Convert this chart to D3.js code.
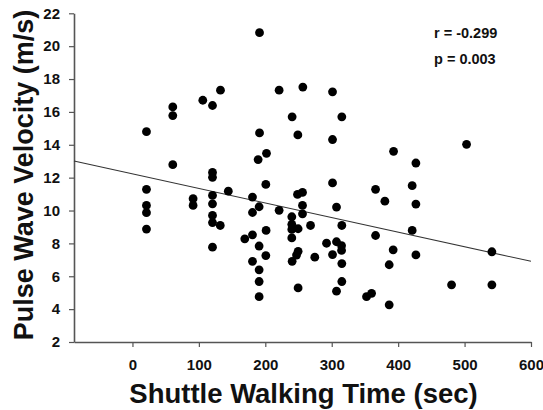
<!DOCTYPE html>
<html><head><meta charset="utf-8">
<script src="https://cdn.jsdelivr.net/npm/d3@7/dist/d3.min.js"></script>
<style>
html,body{margin:0;padding:0;background:#fff;}
text{font-family:Arial,"Liberation Sans",sans-serif;font-weight:bold;fill:#111;}
</style></head>
<body><svg id="c" width="543" height="410"></svg>
<script>
const walkTime = [132.5,105.9,120.5,60.7,60.7,21.1,60.7,120.5,120.5,21.1,91.3,91.3,21.1,21.1,21.1,120.5,120.5,120.5,120.5,132.2,120.5,144.3,
191.3,220.8,256.5,301.2,240.4,315.2,191.3,249.0,301.2,201.8,189.2,393.1,503.0,426.7,421.1,426.7,421.1,426.7,541.1,480.4,541.1,
200.8,301.2,180.7,248.5,256.0,366.0,380.0,190.7,180.7,220.8,256.0,256.0,307.2,239.9,239.9,239.9,249.4,268.1,315.2,201.2,366.0,
180.7,169.1,239.9,190.7,292.2,307.2,314.8,314.8,249.4,247.0,200.8,274.5,301.2,392.5,180.7,240.4,190.7,315.2,386.5,190.7,315.2,
249.4,307.2,190.7,352.4,360.0,386.5];
const pwv = [17.32,16.71,16.39,16.30,15.78,14.80,12.79,12.32,12.02,11.29,10.72,10.31,10.31,9.87,8.87,10.92,10.41,9.70,9.27,9.09,7.77,11.18,
20.82,17.32,17.51,17.22,15.70,15.70,14.72,14.60,14.32,13.48,13.10,13.60,14.03,12.89,11.51,10.39,8.79,7.30,7.49,5.48,5.48,
11.59,11.68,10.82,10.98,11.10,11.29,10.57,10.23,9.88,10.01,10.31,9.80,10.21,9.62,9.16,8.85,8.89,9.09,9.09,8.79,8.48,
8.52,8.28,8.33,7.84,8.01,8.10,7.87,7.57,7.52,7.29,7.26,7.16,7.32,7.61,6.91,6.91,6.39,6.77,6.70,5.68,5.68,
5.29,5.09,4.76,4.76,4.96,4.26];
const xTicks = [0,100,200,300,400,500,600];
const yTicks = [2,4,6,8,10,12,14,16,18,20,22];
const regIntercept = 12.23, regSlope = -0.00887;
const statLines = ["r = -0.299","p = 0.003"];
const xTitle = "Shuttle Walking Time (sec)";
const yTitle = "Pulse Wave Velocity (m/s)";

const svg = d3.select("#c");
const x = d3.scaleLinear().domain([-88,600]).range([74,531]);
const y = d3.scaleLinear().domain([2,22]).range([342,13.3]);

const axCol = "#555";
const gx = svg.append("g").attr("transform","translate(0,342)")
  .call(d3.axisBottom(x).tickValues(xTicks).tickSize(5).tickPadding(12).tickSizeOuter(0));
const gy = svg.append("g").attr("transform","translate(74,0)")
  .call(d3.axisLeft(y).tickValues(yTicks).tickSize(5).tickPadding(9).tickSizeOuter(0));
[gx,gy].forEach(g=>{
  g.select(".domain").attr("stroke",axCol).attr("stroke-width",1.6);
  g.selectAll(".tick line").attr("stroke",axCol).attr("stroke-width",1.2);
  g.selectAll(".tick text").attr("font-size",15).attr("font-family","Arial, 'Liberation Sans', sans-serif").attr("font-weight","bold").attr("fill","#111");
});

// regression line
const xd = x.domain();
svg.append("line")
  .attr("x1",x(xd[0])).attr("y1",y(regIntercept+regSlope*xd[0]))
  .attr("x2",x(xd[1])).attr("y2",y(regIntercept+regSlope*xd[1]))
  .attr("stroke","#333").attr("stroke-width",1.1);

svg.append("g").selectAll("circle").data(walkTime.map((d,i)=>[d,pwv[i]])).join("circle")
  .attr("cx",d=>x(d[0])).attr("cy",d=>y(d[1])).attr("r",4.4).attr("fill","#000");

svg.append("g").selectAll("text").data(statLines).join("text")
  .attr("x",434).attr("y",(d,i)=>38+i*25.5).attr("font-size",14.5).text(d=>d);

svg.append("text").attr("x",303.5).attr("y",403).attr("text-anchor","middle")
  .attr("font-size",27.5).text(xTitle);
svg.append("text").attr("transform","translate(32.5,175) rotate(-90)").attr("text-anchor","middle")
  .attr("font-size",27).text(yTitle);
</script></body></html>
